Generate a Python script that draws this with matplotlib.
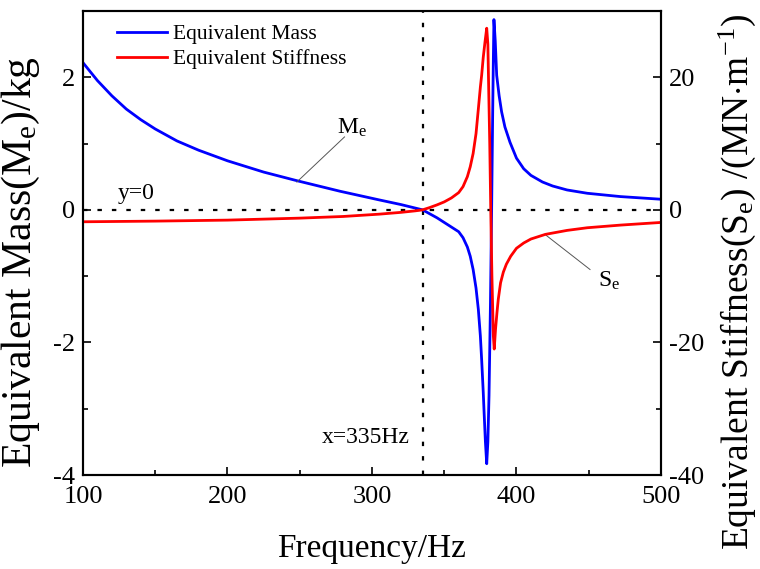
import matplotlib
matplotlib.use("Agg")
import matplotlib.pyplot as plt
from matplotlib.ticker import MultipleLocator

plt.rcParams['font.family'] = ['Liberation Serif', 'DejaVu Serif']
plt.rcParams['mathtext.fontset'] = 'custom'
plt.rcParams['mathtext.rm'] = 'Liberation Serif'
plt.rcParams['mathtext.it'] = 'Liberation Serif:italic'
plt.rcParams['axes.unicode_minus'] = False

# Equivalent mass (left axis, kg)
mass_freq = [100, 110, 120, 130, 140, 150, 165, 180, 200, 225, 248, 278, 305, 320, 335,
             340, 345, 350, 355, 360, 363, 366, 368, 370, 372, 373.6, 375, 375.9, 377,
             377.5, 378.5, 379.4, 380.2, 381, 382, 382.8, 383.5, 384, 384.4, 385.3,
             386.3, 388, 389.7, 392, 395.5, 400, 405, 410, 418, 425, 435, 449, 472, 500]
mass_vals = [2.22, 1.95, 1.72, 1.52, 1.36, 1.22, 1.04, 0.9, 0.74, 0.57, 0.44, 0.28, 0.15,
             0.08, 0.0, -0.06, -0.12, -0.19, -0.26, -0.33, -0.42, -0.56, -0.7, -0.9,
             -1.18, -1.5, -1.9, -2.26, -2.75, -3.01, -3.5, -3.83, -3.5, -2.8, -1.4, 0.0,
             1.4, 2.28, 2.87, 2.55, 2.03, 1.72, 1.48, 1.25, 1.02, 0.78, 0.62, 0.52, 0.42,
             0.36, 0.3, 0.25, 0.2, 0.16]

# Equivalent stiffness (right axis, MN/m)
stiff_freq = [100, 150, 200, 250, 280, 305, 320, 330, 335, 340, 345, 350, 355, 360, 363,
              366, 368, 370, 372, 373.6, 375, 375.9, 377, 378.2, 379.4, 380.2, 380.8,
              381.5, 382.2, 383, 384, 384.6, 385.5, 386.5, 387.4, 389, 390.9, 393, 396,
              400, 405, 410, 420, 435, 449, 472, 500]
stiff_vals = [-1.8, -1.7, -1.55, -1.25, -1.0, -0.65, -0.38, -0.15, 0.0, 0.35, 0.75, 1.2,
              1.8, 2.6, 3.5, 5.0, 6.5, 8.5, 11.5, 15.2, 18.5, 20.3, 23.0, 25.3, 27.4,
              25.0, 18.0, 10.0, 0.0, -10.0, -19.0, -21.0, -18.0, -15.5, -13.5, -11.0,
              -9.4, -8.2, -7.0, -5.8, -5.0, -4.4, -3.7, -3.1, -2.7, -2.3, -1.9]

x_marker = 335
legend_labels = ["Equivalent Mass", "Equivalent Stiffness"]

fig = plt.figure(figsize=(7.6, 5.69), dpi=100)
ax = fig.add_axes([0.1092, 0.1652, 0.7605, 0.8155])
ax2 = ax.twinx()

l1, = ax.plot(mass_freq, mass_vals, color='#0000ff', lw=2.0)
l2, = ax2.plot(stiff_freq, stiff_vals, color='#ff0000', lw=2.0)

ax.axhline(0, color='black', lw=1.6, ls=(0, (2, 4.5)), zorder=1)
ax.axvline(x_marker, color='black', lw=1.6, ls=(0, (2, 4.5)), zorder=1)

ax.set_xlim(100, 500)
ax.set_ylim(-4, 3)
ax2.set_ylim(-40, 30)

ax.xaxis.set_major_locator(MultipleLocator(100))
ax.xaxis.set_minor_locator(MultipleLocator(50))
ax.yaxis.set_major_locator(MultipleLocator(2))
ax.yaxis.set_minor_locator(MultipleLocator(1))
ax2.yaxis.set_major_locator(MultipleLocator(20))
ax2.yaxis.set_minor_locator(MultipleLocator(10))

for a in (ax, ax2):
    a.tick_params(which='both', direction='in', labelsize=19, width=1.2)
    a.tick_params(which='major', length=6)
    a.tick_params(which='minor', length=3.5)
    for s in a.spines.values():
        s.set_linewidth(1.5)
ax.tick_params(axis='x', pad=8)
ax.tick_params(axis='y', pad=6)
ax2.tick_params(axis='y', pad=6)

ax.set_xlabel("Frequency/Hz", fontsize=24)
ax.xaxis.set_label_coords(0.5, -0.125)
ax.set_ylabel(r"Equivalent Mass(M$_\mathrm{e}$)/kg", fontsize=30)
ax.yaxis.set_label_coords(-0.071, 0.46)
ax2.set_ylabel(r"Equivalent Stiffness(S$_\mathrm{e}$) /(MN$\cdot$m$^{-1}$)", fontsize=27)
ax2.yaxis.set_label_coords(1.097, 0.417)

ax.legend([l1, l2], legend_labels, loc='upper left', frameon=False, fontsize=15.5,
          handlelength=2.3, handletextpad=0.3, borderpad=0, borderaxespad=0,
          bbox_to_anchor=((117 - 83) / 578, 0.972), labelspacing=0.25)

ax.text(124.2, 0.16, "y=0", fontsize=17, ha='left', va='baseline')
ax.text(326.3, -3.52, "x=335Hz", fontsize=17, ha='right', va='baseline')

ax.plot([248, 281], [0.42, 1.10], color='#555555', lw=0.7)
ax.text(275.8, 1.145, r"M$_\mathrm{e}$", fontsize=17, ha='left', va='baseline')
ax.plot([419.7, 450.9], [-0.37, -0.90], color='#555555', lw=0.7)
ax.text(456.4, -1.16, r"S$_\mathrm{e}$", fontsize=17, ha='left', va='baseline')

fig.savefig("out.png", dpi=100)
